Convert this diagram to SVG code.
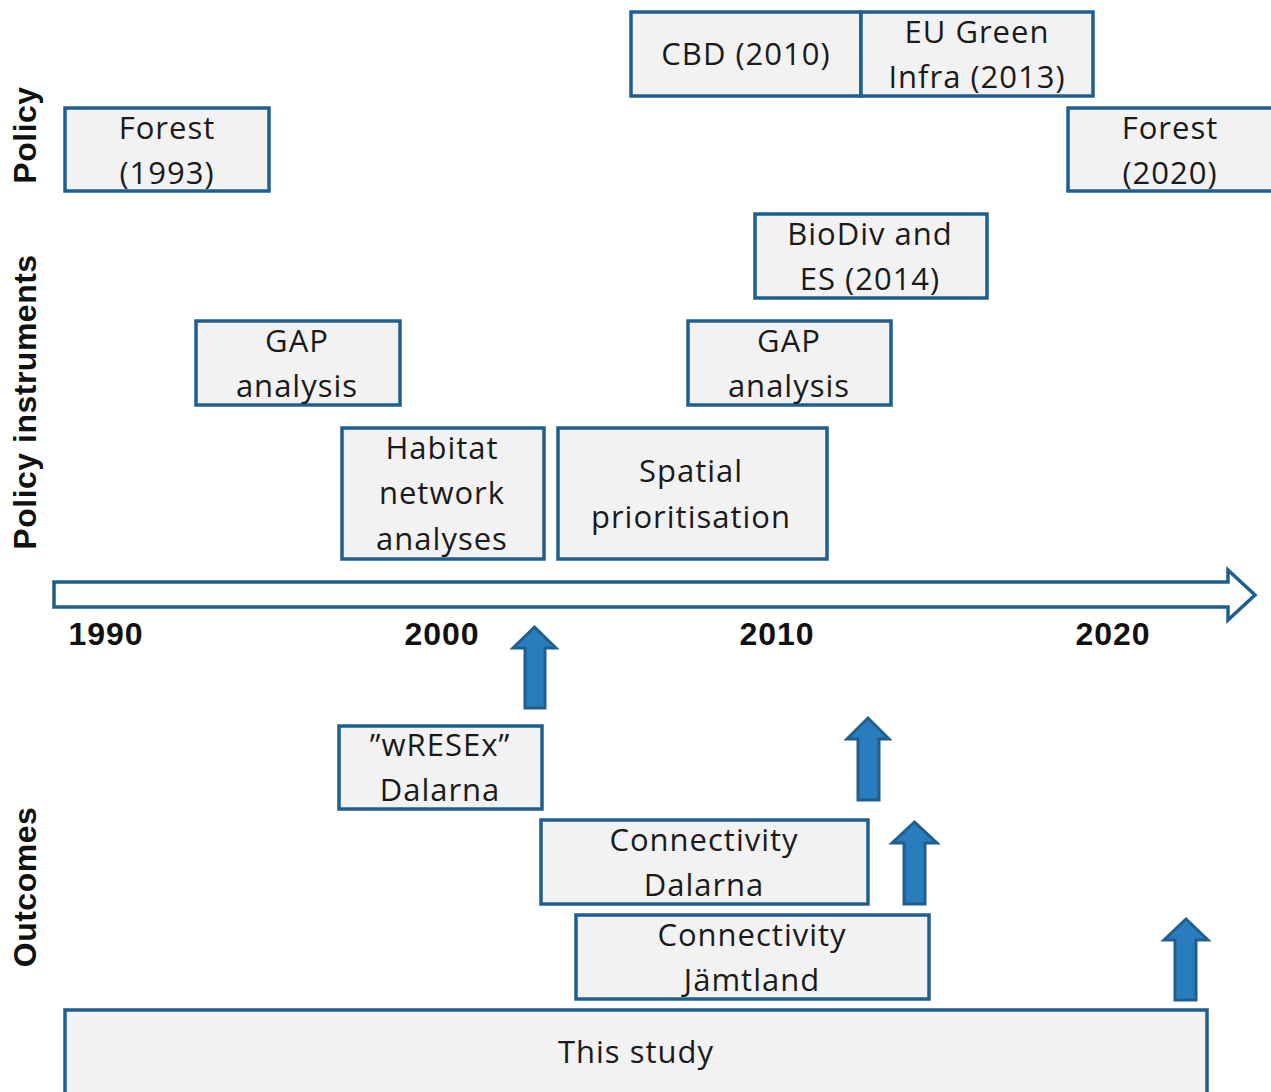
<svg xmlns="http://www.w3.org/2000/svg" width="1271" height="1092" viewBox="0 0 1271 1092">
<defs>
<style>
.box{fill:#f2f2f2;stroke:#1f5f8f;stroke-width:3.5}
.t{font-family:"Open Sans","Liberation Sans",sans-serif;font-size:31px;letter-spacing:1px;fill:#1a1a1a;text-anchor:middle}
.yr{font-family:"Liberation Sans",sans-serif;font-size:32px;font-weight:bold;letter-spacing:1px;fill:#111;text-anchor:middle}
.lab{font-family:"Liberation Sans",sans-serif;font-size:32px;font-weight:bold;letter-spacing:0.5px;fill:#111;text-anchor:middle}
.up{fill:#2a7dbd;stroke:#1f5f8f;stroke-width:3;stroke-linejoin:miter}
</style>
</defs>
<rect width="1271" height="1092" fill="#fff"/>
<g id="labels">
<text class="lab" transform="translate(36,135) rotate(-90)">Policy</text>
<text class="lab" transform="translate(36,402) rotate(-90)">Policy instruments</text>
<text class="lab" transform="translate(36,887) rotate(-90)">Outcomes</text>
</g>
<g id="timeline">
<path d="M54,582 H1228 V570 L1255,595 L1228,620 V607 H54 Z" fill="#fff" stroke="#1f5f8f" stroke-width="3.5" stroke-linejoin="miter"/>
<text class="yr" x="106" y="645">1990</text>
<text class="yr" x="442" y="645">2000</text>
<text class="yr" x="777" y="645">2010</text>
<text class="yr" x="1113" y="645">2020</text>
</g>
<g id="forest1993"><rect class="box" x="65" y="108" width="204" height="83"/><text class="t" x="167" y="139">Forest</text><text class="t" x="167" y="184">(1993)</text></g>
<g id="cbd2010"><rect class="box" x="631" y="12" width="230" height="84"/><text class="t" x="746" y="65">CBD (2010)</text></g>
<g id="eugreen"><rect class="box" x="861" y="12" width="232" height="84"/><text class="t" x="977" y="43">EU Green</text><text class="t" x="977" y="88">Infra (2013)</text></g>
<g id="forest2020"><rect class="box" x="1068" y="108" width="210" height="83"/><text class="t" x="1170" y="139">Forest</text><text class="t" x="1170" y="184">(2020)</text></g>
<g id="biodiv"><rect class="box" x="755" y="214" width="232" height="84"/><text class="t" x="870" y="245">BioDiv and</text><text class="t" x="870" y="290">ES (2014)</text></g>
<g id="gap1"><rect class="box" x="196" y="321" width="204" height="84"/><text class="t" x="297" y="352">GAP</text><text class="t" x="297" y="397">analysis</text></g>
<g id="gap2"><rect class="box" x="688" y="321" width="203" height="84"/><text class="t" x="789" y="352">GAP</text><text class="t" x="789" y="397">analysis</text></g>
<g id="habitat"><rect class="box" x="342" y="428" width="202" height="131"/><text class="t" x="442" y="459">Habitat</text><text class="t" x="442" y="504">network</text><text class="t" x="442" y="550">analyses</text></g>
<g id="spatial"><rect class="box" x="558" y="428" width="269" height="131"/><text class="t" x="691" y="482">Spatial</text><text class="t" x="691" y="528">prioritisation</text></g>
<g id="wresex"><rect class="box" x="339" y="726" width="203" height="83"/><text class="t" x="440" y="756">”wRESEx”</text><text class="t" x="440" y="801">Dalarna</text></g>
<g id="conndal"><rect class="box" x="541" y="820" width="327" height="84"/><text class="t" x="704" y="851">Connectivity</text><text class="t" x="704" y="896">Dalarna</text></g>
<g id="connjam"><rect class="box" x="576" y="915" width="353" height="84"/><text class="t" x="752" y="946">Connectivity</text><text class="t" x="752" y="991">Jämtland</text></g>
<g id="thisstudy"><rect class="box" x="65" y="1010" width="1142" height="90"/><text class="t" x="636" y="1063">This study</text></g>
<g id="connectors">
<path class="up" d="M525,708 V648 H513 L534.5,627 L556,648 H545 V708 Z"/>
<path class="up" d="M858,800 V739 H847 L868,718 L889,739 H879 V800 Z"/>
<path class="up" d="M904,904 V843 H892 L914.5,822 L937,843 H925 V904 Z"/>
<path class="up" d="M1175,1000 V940 H1164 L1186,919 L1208,940 H1196 V1000 Z"/>
</g>
</svg>
